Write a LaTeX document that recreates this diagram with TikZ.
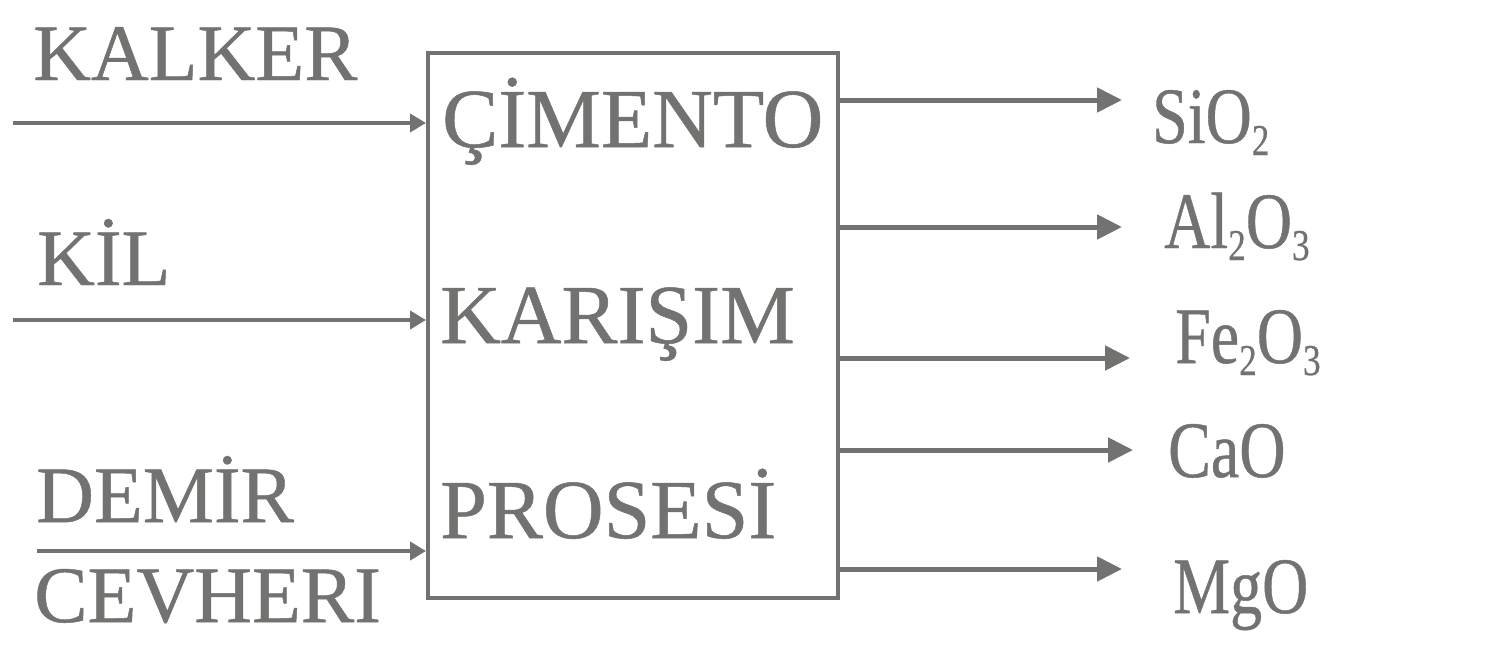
\documentclass[tikz,border=0pt]{standalone}
\usepackage{fontspec}
\setmainfont[FakeBold=0.6]{Liberation Serif}
\usetikzlibrary{arrows.meta}
\definecolor{ink}{HTML}{727270}
\newcommand{\chemsub}[1]{\raisebox{-12pt}{\fontsize{44}{44}\selectfont #1}}
\newcommand{\narrow}[1]{\scalebox{0.8}[1]{#1}}
\begin{document}
\begin{tikzpicture}[x=1pt,y=-1pt,
  lbl/.style={inner sep=0pt,anchor=base west,text=ink,font=\fontsize{80}{90}\selectfont},
  boxlbl/.style={lbl,font=\fontsize{84}{90}\selectfont},
  arr/.style={draw=ink,line width=5pt,-{Triangle[length=25pt,width=24pt]},color=ink},
  inarr/.style={draw=ink,line width=4.5pt,-{Triangle[length=16pt,width=18pt]},color=ink},
  procbox/.style={draw=ink,line width=4pt,fill=white,minimum width=410pt,minimum height=545pt,inner sep=0pt}]
\useasboundingbox (0,0) rectangle (1511,646);
\fill[white] (0,0) rectangle (1511,646);
% process box
\node[procbox] (box) at (633,325.5) {};
\node[boxlbl] (t1) at (442,147) {ÇİMENTO};
\node[boxlbl] (t2) at (440,343) {KARIŞIM};
\node[boxlbl] (t3) at (440,538) {PROSESİ};
% inputs
\node[lbl] (kalker) at (33,80) {KALKER};
\node[lbl] (kil) at (37,285) {KİL};
\node[lbl] (demir) at (36,522) {DEMİR};
\node[lbl] (cevheri) at (34,622) {CEVHERI};
\coordinate (i1) at (13,123);
\coordinate (i2) at (13,320);
\coordinate (i3) at (37,551);
\draw[inarr] (i1) -- (i1 -| box.west);
\draw[inarr] (i2) -- (i2 -| box.west);
\draw[inarr] (i3) -- (i3 -| box.west);
% outputs
\coordinate (o1) at (1122,100);
\coordinate (o2) at (1122,227);
\coordinate (o3) at (1130,358);
\coordinate (o4) at (1133,450);
\coordinate (o5) at (1122,569);
\draw[arr] (o1 -| box.east) -- (o1);
\draw[arr] (o2 -| box.east) -- (o2);
\draw[arr] (o3 -| box.east) -- (o3);
\draw[arr] (o4 -| box.east) -- (o4);
\draw[arr] (o5 -| box.east) -- (o5);
\node[lbl] (sio2) at (1152,143) {\narrow{SiO\chemsub{2}}};
\node[lbl] (al2o3) at (1164,248) {\narrow{Al\chemsub{2}O\chemsub{3}}};
\node[lbl] (fe2o3) at (1175,363) {\narrow{Fe\chemsub{2}O\chemsub{3}}};
\node[lbl] (cao) at (1168,477) {\narrow{CaO}};
\node[lbl] (mgo) at (1173,613) {\narrow{MgO}};
\end{tikzpicture}
\end{document}
